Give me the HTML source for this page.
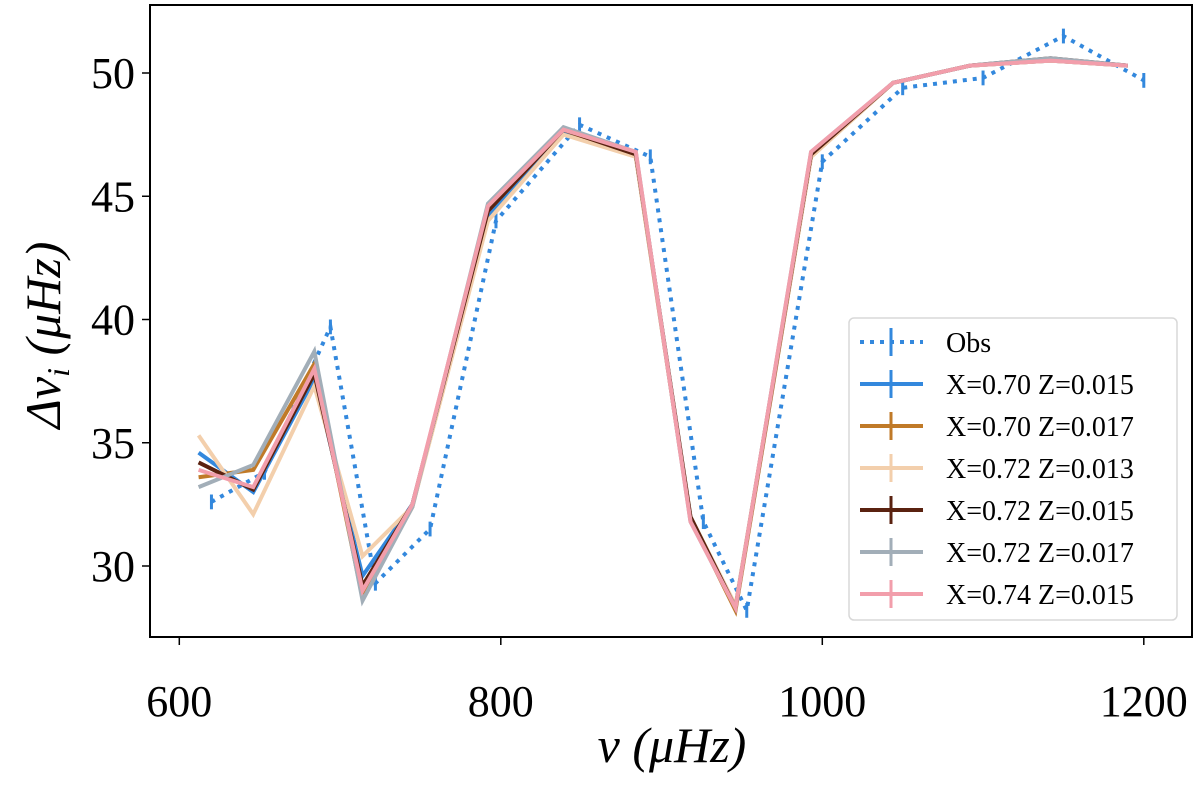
<!DOCTYPE html>
<html><head><meta charset="utf-8"><style>
body{margin:0;background:#fff;}
svg text{font-family:"Liberation Serif",serif;fill:#000;}
</style></head><body>
<svg id="chart" width="1200" height="785" xmlns="http://www.w3.org/2000/svg">
<rect x="0" y="0" width="1200" height="785" fill="#fff"/>
<g id="series"></g>
<rect x="150" y="5" width="1042" height="632" fill="none" stroke="#000" stroke-width="2"/>
<g id="axes"></g>
<text x="672" y="762" font-size="50" font-style="italic" text-anchor="middle">ν  (μHz)</text>
<text transform="translate(60,335) rotate(-90)" font-size="50" font-style="italic" text-anchor="middle">Δν<tspan font-size="32" dy="9">i</tspan><tspan dy="-9">  (μHz)</tspan></text>
<g id="legend"></g>
</svg>
<script>
const xTicks=[600,800,1000,1200];
const yTicks=[30,35,40,45,50];
const modelFreq=[612,646,684,714,745,792,839,884,918,946,993,1044,1092,1142,1190];
const obsFreq=[620,653,694,722,756,797,849,893,926,953,1000,1050,1100,1150,1200];
const obsVals=[32.6,33.8,39.7,29.3,31.5,44.0,47.9,46.6,31.8,28.2,46.4,49.4,49.8,51.5,49.7];
const s1=[34.6,33.0,37.6,29.6,32.5,44.2,47.6,46.7,31.9,28.3,46.7,49.6,50.3,50.5,50.3];
const s2=[33.6,33.9,38.2,28.7,32.4,44.4,47.7,46.6,31.9,28.2,46.6,49.6,50.3,50.5,50.3];
const s3=[35.3,32.1,37.3,30.4,32.4,44.0,47.5,46.6,32.0,28.4,46.6,49.6,50.3,50.5,50.3];
const s4=[34.2,33.1,37.8,29.2,32.5,44.4,47.7,46.7,32.0,28.3,46.7,49.6,50.3,50.6,50.3];
const s5=[33.2,34.1,38.7,28.6,32.4,44.7,47.8,46.8,31.8,28.3,46.8,49.6,50.3,50.6,50.3];
const s6=[33.9,33.2,38.0,29.0,32.5,44.6,47.7,46.8,31.8,28.3,46.8,49.6,50.3,50.5,50.3];
const labels=["Obs","X=0.70 Z=0.015","X=0.70 Z=0.017","X=0.72 Z=0.013","X=0.72 Z=0.015","X=0.72 Z=0.017","X=0.74 Z=0.015"];
const colors=["#3388dd","#3388dd","#c07a28","#f3cfac","#5a2210","#a2aeb8","#f29eab"];

const NS="http://www.w3.org/2000/svg";
function X(v){return 179.3+(v-600)*1.6075;}
function Y(d){return 73+(50-d)*24.65;}
function mk(tag,attrs,parent){const e=document.createElementNS(NS,tag);for(const k in attrs)e.setAttribute(k,attrs[k]);parent.appendChild(e);return e;}

const axes=document.getElementById('axes');
xTicks.forEach(t=>{
  const l=mk('line',{x1:X(t),x2:X(t),y1:637,y2:645,stroke:'#000','stroke-width':1.5},axes);
  
  
  const tx=mk('text',{x:X(t),y:716,'font-size':44,'text-anchor':'middle'},axes);
  tx.textContent=t;
  
  
});
yTicks.forEach(t=>{
  const l=mk('line',{x1:142,x2:150,y1:Y(t),y2:Y(t),stroke:'#000','stroke-width':1.5},axes);
  
  
  const tx=mk('text',{x:135,y:Y(t)+15,'font-size':44,'text-anchor':'end'},axes);
  tx.textContent=t;
  
  
});

const ser=document.getElementById('series');
const models=[s1,s2,s3,s4,s5,s6];
function poly(xs,ys,color,dash,w){
  const p=mk('polyline',{points:xs.map((x,i)=>X(x)+','+Y(ys[i])).join(' '),fill:'none',stroke:color,'stroke-width':w,'stroke-linejoin':'miter'},ser);
  if(dash)p.setAttribute('stroke-dasharray',dash);
  return p;
}
const op=poly(obsFreq,obsVals,colors[0],'4 6',4);


obsFreq.forEach((f,i)=>{
  const e=mk('line',{x1:X(f),x2:X(f),y1:Y(obsVals[i]+0.3),y2:Y(obsVals[i]-0.3),stroke:colors[0],'stroke-width':3},ser);
  
  
});
models.forEach((s,k)=>{
  const p=poly(modelFreq,s,colors[k+1],null,4);
  
  
});

const lg=document.getElementById('legend');
const box=mk('rect',{x:849,y:318,width:328,height:302,rx:5,fill:'#fff','fill-opacity':0.85,stroke:'#d8d8d8','stroke-width':1.5},lg);


labels.forEach((lab,i)=>{
  const y=342+i*42;
  const g=mk('g',{},lg);
  
  
  const h=mk('line',{x1:860,x2:923,y1:y,y2:y,stroke:colors[i],'stroke-width':4},g);
  if(i===0)h.setAttribute('stroke-dasharray','4 6');
  mk('line',{x1:891,x2:891,y1:y-14,y2:y+14,stroke:colors[i],'stroke-width':3},g);
  const t=mk('text',{x:946,y:y+10,'font-size':28},g);
  t.textContent=lab;
});
</script>
</body></html>
